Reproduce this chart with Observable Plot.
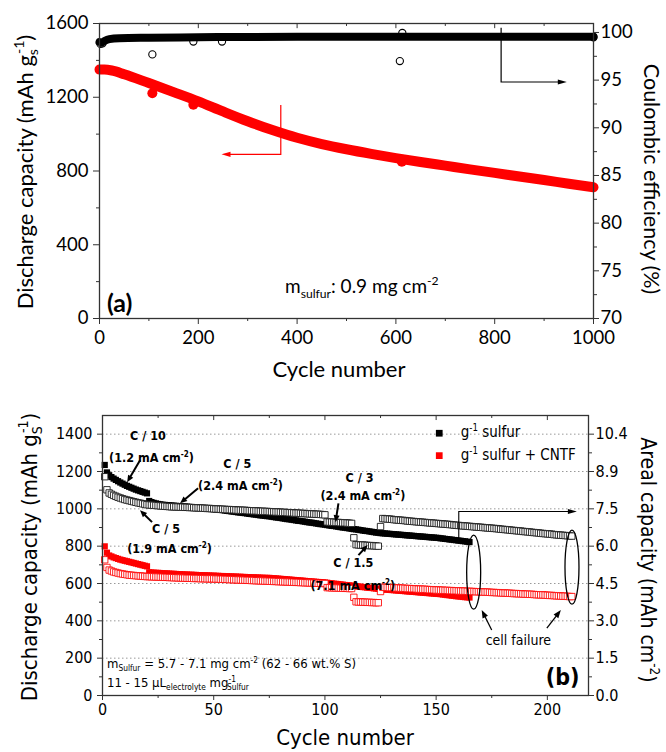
<!DOCTYPE html>
<html><head><meta charset="utf-8">
<script src="https://cdn.jsdelivr.net/npm/d3@7"></script>
<script src="https://cdn.jsdelivr.net/npm/@observablehq/plot@0.6"></script>
<style>
body{margin:0;background:#fff;}
#wrap{width:666px;height:752px;position:relative;overflow:hidden;background:#fff;}
#wrap svg{display:block;}
</style></head><body><div id="wrap"></div>
<script>
// ================= DATA: panel (a) =================
const capCycles = [0,10,25,50,100,150,200,250,300,350,400,450,500,550,600,650,700,750,800,850,900,950,1000];
const capValues = [1350,1350,1345,1325,1277,1228,1178,1123,1070,1022,980,946,918,893,870,849,829,809,790,770,751,731,712];
const capDipCycles = [107,190,612];
const capDipValues = [1222,1160,850];
const ceCycles = [0,5,10,20,40,100,200,400,600,800,1000];
const ceValues = [99.0,98.95,99.1,99.3,99.4,99.45,99.5,99.55,99.55,99.55,99.55];
const ceOutCycles = [2,6,107,190,248,608,613,1000];
const ceOutValues = [98.8,98.85,97.7,99.05,99.05,97.0,99.95,99.5];
const aXTicks = [0,200,400,600,800,1000];
const aXMinor = [100,300,500,700,900];
const aYTicks = [0,400,800,1200,1600];
const aYMinor = [200,600,1000,1400];
const ceTicks = [70,75,80,85,90,95,100];
const ceMinor = [72.5,77.5,82.5,87.5,92.5,97.5];
const ceDomain = [70,100.94];

// ================= DATA: panel (b) =================
const bBlackFilled = [1235,1195,1180,1170,1162,1155,1148,1141,1135,1129,1123,1118,1113,1108,1103,1099,1095,1091,1087,1083,
1042,1036,1032,1029,1026,1024,1022,1021,1020,1019,
1018,1017,1016,1015,1014,1013,1012,1011,1010,1009,1008,1007,1006,1005,1004,1003,1002,1001,1000,999,
997,996,994,993,991,989,988,986,985,983,981,980,978,977,975,973,972,970,969,967,965,964,962,961,960,
958,956,954,953,951,949,947,945,944,942,940,938,936,935,933,931,929,927,926,924,922,920,918,917,915,
913,911,909,908,906,904,902,900,899,897,895,893,891,890,888,886,884,882,881,879,877,875,873,872,870,
869,868,867,866,865,864,863,862,861,860,859,858,857,856,855,854,853,852,851,850,849,848,847,846,845,
844,842,841,839,838,836,835,833,832,830,829,827,826,824,822];
const bRedFilled = [799,765,750,745,740,736,732,728,725,722,719,716,713,710,707,704,701,698,695,692,
660,659,658,657,657,656,655,654,654,653,
652,652,651,650,650,649,648,648,647,647,646,646,645,645,644,644,643,643,642,642,
641,641,640,640,639,639,638,638,637,637,636,636,635,635,634,634,633,633,632,632,631,631,630,630,630,
629,628,627,626,625,624,623,622,621,620,619,618,617,616,615,614,613,612,611,610,609,608,607,606,605,
604,602,601,599,598,597,595,594,592,591,590,588,587,585,584,583,581,580,578,577,576,574,573,571,570,
569,568,567,566,565,564,563,562,561,560,559,558,557,556,555,554,553,552,551,550,549,548,547,546,545,
544,543,541,540,538,537,535,534,532,531,530,528,527,526,525];
const bGrayOpen = [1172,1102,1085,1078,1072,1067,1062,1058,1054,1050,1047,1044,1041,1038,1035,1032,1030,1027,1025,1022,
1021,1020,1019,1018,1017,1016,1015,1014,1013,1012,1011,1011,1010,1010,1009,1009,1008,1008,1007,1007,1006,1005,1005,1004,1004,1003,1002,1002,1001,1000,
999,999,998,998,997,996,996,995,995,994,993,993,992,992,991,990,990,989,989,988,
987,987,986,986,985,984,984,983,983,982,981,981,980,979,979,978,977,977,976,975,
975,974,973,973,972,971,971,970,969,968,
930,929,929,928,927,927,926,925,925,924,923,922,
845,
808,807,806,806,805,804,803,803,802,801,800,
905,
948,947,946,945,944,942,941,940,939,938,937,935,934,933,932,931,930,929,928,927,926,925,924,923,922,
921,920,919,918,917,916,915,913,912,911,910,909,908,907,906,905,904,903,902,901,900,899,898,897,896,
895,894,893,891,890,889,888,887,885,884,883,882,881,879,878,877,876,874,873,872,871,869,868,867,866,
865,864,862,861,860,859,858,857,856,855,854];
const bRedOpen = [727,686,672,667,662,659,656,653,651,649,647,645,644,643,642,641,640,639,638,637,
637,636,636,635,635,634,634,633,633,632,632,631,631,630,630,629,629,628,628,628,627,627,627,626,626,626,625,625,625,625,
624,624,623,623,622,622,621,621,620,620,619,619,618,618,617,617,616,616,615,615,
614,614,613,613,612,612,611,611,610,610,609,609,608,608,607,607,606,606,605,605,
604,604,603,603,602,602,601,601,600,600,
578,578,577,577,576,576,575,575,574,574,573,573,
526,
502,501,501,500,500,499,499,498,498,497,497,
557,
580,579,579,578,578,577,576,576,575,575,574,573,573,572,572,571,570,570,569,569,568,567,567,566,565,
565,564,564,563,563,562,562,561,561,560,560,559,559,558,558,557,557,556,556,555,555,554,554,553,552,
552,551,551,550,549,549,548,548,547,546,546,545,545,544,543,543,542,542,541,540,540,539,539,538,537,
536,536,535,534,534,533,532,532,531,530,530];
const bXTicks = [0,50,100,150,200];
const bXMinor = [25,75,125,175];
const bYTicks = [0,200,400,600,800,1000,1200,1400];
const bYMinor = [100,300,500,700,900,1100,1300];
const bGrid = [200,400,600,800,1000,1200,1400];
const arealLabels = ["0.0","1.5","3.0","4.5","6.0","7.5","8.9","10.4"];
const legendLabels = ["sulfur","sulfur + CNTF"];

// ================= helpers =================
const F_A = "Lato, 'Open Sans', sans-serif";
const F_B = "'DejaVu Sans Condensed', 'DejaVu Sans', sans-serif";
const plain = d => String(d);

function richMark(items) {
  return (index, scales) => {
    const g = d3.create("svg:g");
    for (const it of items) {
      const x = it.px ? it.x : scales.x(it.x);
      const y = it.px ? it.y : scales.y(it.y);
      const t = g.append("text")
        .attr("x", x).attr("y", y)
        .attr("font-family", it.font)
        .attr("font-size", it.size)
        .attr("font-weight", it.weight || "normal")
        .attr("fill", "#000")
        .attr("text-anchor", it.anchor || "start")
        .style("white-space", "pre");
      if (it.rotate) t.attr("transform", `rotate(${it.rotate} ${x} ${y})`);
      let off = 0;
      for (const [s, m, dx] of it.parts) {
        const sp = t.append("tspan").text(s);
        let target = 0, fs = it.size;
        if (m === "^") { target = -0.42 * it.size; fs = 0.64 * it.size; }
        else if (m === "_") { target = 0.24 * it.size; fs = 0.64 * it.size; }
        sp.attr("font-size", fs).attr("dy", target - off);
        if (dx) sp.attr("dx", dx);
        off = target;
      }
    }
    return g.node();
  };
}
function arrowMark(arrows) {
  return (index, scales) => {
    const g = d3.create("svg:g");
    for (const a of arrows) {
      const p = a.pts.map(([x, y]) => [scales.x(x), scales.y(y)]);
      const n = p.length;
      const [x1, y1] = p[n - 2], [x2, y2] = p[n - 1];
      const L = Math.hypot(x2 - x1, y2 - y1), ux = (x2 - x1) / L, uy = (y2 - y1) / L;
      const hl = a.head || 8, hw = a.hw || 3;
      const bx = x2 - ux * hl, by = y2 - uy * hl;
      const line = p.slice(0, n - 1).concat([[bx + ux, by + uy]]);
      g.append("path").attr("d", "M" + line.map(q => q.join(",")).join("L"))
        .attr("fill", "none").attr("stroke", a.color).attr("stroke-width", a.w);
      g.append("path").attr("d", `M${x2},${y2}L${bx - uy * hw},${by + ux * hw}L${bx + uy * hw},${by - ux * hw}Z`)
        .attr("fill", a.color);
    }
    return g.node();
  };
}
function ellipseMark(list) {
  return (index, scales) => {
    const g = d3.create("svg:g");
    for (const e of list) {
      g.append("ellipse").attr("cx", scales.x(e.x)).attr("cy", scales.y(e.y))
        .attr("rx", e.rx).attr("ry", e.ry).attr("fill", "none").attr("stroke", "#000").attr("stroke-width", 1.3);
    }
    return g.node();
  };
}

// ================= panel (a) =================
const toLeft = ce => (ce - ceDomain[0]) / (ceDomain[1] - ceDomain[0]) * 1600;
const toCE = v => v / 1600 * (ceDomain[1] - ceDomain[0]) + ceDomain[0];
const capData = capCycles.map((c, i) => ({c, v: capValues[i]}));
const capDips = capDipCycles.map((c, i) => ({c, v: capDipValues[i]}));
const ceData = ceCycles.map((c, i) => ({c, v: toLeft(ceValues[i])}));
const ceOut = ceOutCycles.map((c, i) => ({c, v: toLeft(ceOutValues[i])}));
const AX = "#333";

const plotA = Plot.plot({
  width: 666, height: 385,
  marginLeft: 99, marginRight: 73, marginTop: 23, marginBottom: 67,
  x: {domain: [0, 1000], label: null},
  y: {domain: [0, 1600], label: null},
  style: {fontFamily: F_A, fontSize: "18.5px", color: "#000", background: "#fff", overflow: "visible"},
  marks: [
    Plot.line(capData, {x: "c", y: "v", stroke: "#ff0000", strokeWidth: 10, curve: "monotone-x"}),
    Plot.dot(capDips, {x: "c", y: "v", r: 5, fill: "#ff0000"}),
    Plot.line(ceData, {x: "c", y: "v", stroke: "#000", strokeWidth: 8, curve: "monotone-x"}),
    Plot.dot(ceOut, {x: "c", y: "v", r: 3.6, stroke: "#000", fill: "none", strokeWidth: 1.1}),
    Plot.frame({stroke: AX, strokeWidth: 1.3}),
    Plot.axisX(aXTicks, {anchor: "bottom", tickSize: 6, tickPadding: 6, stroke: AX, label: null, tickFormat: plain}),
    Plot.axisX(aXMinor, {anchor: "bottom", tickSize: 3, tickFormat: () => "", stroke: AX, label: null}),
    Plot.ruleX(aXTicks.concat(aXMinor), {x: d => d, y1: 1600, y2: d => aXTicks.includes(d) ? 1572 : 1584, stroke: AX}),
    Plot.axisY(aYTicks, {anchor: "left", tickSize: 6, tickPadding: 5, stroke: AX, label: null, tickFormat: plain}),
    Plot.axisY(aYMinor, {anchor: "left", tickSize: 3, tickFormat: () => "", stroke: AX, label: null}),
    Plot.axisY(ceTicks.map(toLeft), {anchor: "right", tickSize: 5, tickPadding: 2, stroke: AX, label: null,
      tickFormat: d => String(Math.round(toCE(d)))}),
    Plot.axisY(ceMinor.map(toLeft), {anchor: "right", tickSize: 3, tickFormat: () => "", stroke: AX, label: null}),
    arrowMark([
      {pts: [[368, 1155], [368, 888], [248, 888]], color: "#ff0000", w: 1.2, head: 9, hw: 2.6},
      {pts: [[814, toLeft(100.45)], [814, toLeft(94.75)], [947, toLeft(94.75)]], color: "#000", w: 1.2, head: 9, hw: 2.6}
    ]),
    richMark([
      {x: 16, y: 32, size: 25, weight: "bold", font: F_A, parts: [["(a)"]]},
      {x: 376.5, y: 135.6, size: 19, font: F_A, parts: [["m"], ["sulfur", "_"], [": 0.9 mg cm"], ["-2", "^"]]},
      {px: true, x: 33, y: 172, rotate: -90, anchor: "middle", size: 22, font: F_A,
        parts: [["Discharge capacity (mAh g"], ["s", "_"], ["-1", "^", -5], [")"]]},
      {px: true, x: 644, y: 179, rotate: 90, anchor: "middle", size: 21.5, font: F_A, parts: [["Coulombic efficiency (%)"]]},
      {px: true, x: 339, y: 377, anchor: "middle", size: 22, font: F_A, parts: [["Cycle number"]]}
    ])
  ]
});

// ================= panel (b) =================
const mk = arr => arr.map((v, i) => ({c: i + 1, v}));
const plotB = Plot.plot({
  width: 666, height: 367,
  marginLeft: 102, marginRight: 78, marginTop: 30, marginBottom: 57,
  x: {domain: [0, 218.5], label: null},
  y: {domain: [0, 1500], label: null},
  style: {fontFamily: F_B, fontSize: "16px", color: "#000", background: "#fff", overflow: "visible"},
  marks: [
    Plot.gridY(bGrid, {stroke: "#999", strokeOpacity: 1, strokeDasharray: "1.5,2.5", strokeWidth: 1}),
    Plot.dot(mk(bBlackFilled), {x: "c", y: "v", symbol: "square", r: 3.5, fill: "#000"}),
    Plot.dot(mk(bRedFilled), {x: "c", y: "v", symbol: "square", r: 3.5, fill: "#ff0000"}),
    Plot.dot(mk(bGrayOpen), {x: "c", y: "v", symbol: "square", r: 3.6, fill: "#fff", stroke: "#1a1a1a", strokeWidth: 0.9}),
    Plot.dot(mk(bRedOpen), {x: "c", y: "v", symbol: "square", r: 3.6, fill: "#fff", stroke: "#ff0000", strokeWidth: 0.85}),
    Plot.dot([{c: 151.4, v: 1405, k: 0}, {c: 151.4, v: 1285, k: 1}], {x: "c", y: "v", symbol: "square", r: 3.8,
      fill: d => d.k === 0 ? "#000" : "#ff0000"}),
    Plot.frame({stroke: AX, strokeWidth: 1.3}),
    Plot.axisX(bXTicks, {anchor: "bottom", tickSize: 5, tickPadding: 3, stroke: AX, label: null, tickFormat: plain}),
    Plot.axisX(bXMinor, {anchor: "bottom", tickSize: 3, tickFormat: () => "", stroke: AX, label: null}),
    Plot.ruleX(bXTicks.concat(bXMinor), {x: d => d, y1: 1500, y2: d => bXTicks.includes(d) ? 1473 : 1484, stroke: AX}),
    Plot.axisY(bYTicks, {anchor: "left", tickSize: 5, tickPadding: 5, stroke: AX, label: null, tickFormat: plain}),
    Plot.axisY(bYMinor, {anchor: "left", tickSize: 3, tickFormat: () => "", stroke: AX, label: null}),
    Plot.axisY(bYTicks, {anchor: "right", tickSize: 5, tickPadding: 2, stroke: AX, label: null,
      tickFormat: d => arealLabels[bYTicks.indexOf(d)]}),
    Plot.axisY(bYMinor, {anchor: "right", tickSize: 3, tickFormat: () => "", stroke: AX, label: null}),
    ellipseMark([{x: 167.1, y: 658, rx: 7, ry: 37}, {x: 211.3, y: 685, rx: 7, ry: 37}]),
    arrowMark([
      {pts: [[17.1, 1257], [11.3, 1140]], color: "#000", w: 2, head: 7, hw: 3},
      {pts: [[43.2, 1108], [35.1, 1027]], color: "#000", w: 2, head: 7, hw: 3},
      {pts: [[22.5, 926], [17.1, 990]], color: "#000", w: 2, head: 7, hw: 3},
      {pts: [[106.3, 1027], [105, 926]], color: "#000", w: 2, head: 7, hw: 3},
      {pts: [[115.3, 749], [119.4, 803]], color: "#000", w: 2, head: 7, hw: 3},
      {pts: [[175.2, 348], [170.7, 455]], color: "#000", w: 1.3, head: 8, hw: 3},
      {pts: [[200, 358], [206.3, 455]], color: "#000", w: 1.3, head: 8, hw: 3},
      {pts: [[160.4, 840], [160.4, 983], [213.5, 983]], color: "#000", w: 1.1, head: 9, hw: 2.6}
    ]),
    richMark([
      {x: 12.6, y: 1364, size: 12.5, weight: "bold", font: F_B, parts: [["C / 10"]]},
      {x: 3.2, y: 1247, size: 12.5, weight: "bold", font: F_B, parts: [["(1.2 mA cm"], ["-2", "^"], [")"]]},
      {x: 54.5, y: 1215, size: 12.5, weight: "bold", font: F_B, parts: [["C / 5"]]},
      {x: 43.2, y: 1097, size: 12.5, weight: "bold", font: F_B, parts: [["(2.4 mA cm"], ["-2", "^"], [")"]]},
      {x: 22.5, y: 867, size: 12.5, weight: "bold", font: F_B, parts: [["C / 5"]]},
      {x: 11.3, y: 760, size: 12.5, weight: "bold", font: F_B, parts: [["(1.9 mA cm"], ["-2", "^"], [")"]]},
      {x: 109.5, y: 1140, size: 12.5, weight: "bold", font: F_B, parts: [["C / 3"]]},
      {x: 98.2, y: 1043, size: 12.5, weight: "bold", font: F_B, parts: [["(2.4 mA cm"], ["-2", "^"], [")"]]},
      {x: 104, y: 685, size: 12.5, weight: "bold", font: F_B, parts: [["C / 1.5"]]},
      {x: 93.7, y: 562, size: 12.5, weight: "bold", font: F_B, parts: [["(7.1 mA cm"], ["-2", "^"], [")"]]},
      {x: 172.5, y: 268, size: 14, font: F_B, parts: [["cell failure"]]},
      {x: 199.5, y: 56, size: 23, weight: "bold", font: F_B, parts: [["(b)"]]},
      {x: 2.25, y: 144, size: 13, font: F_B, parts: [["m"], ["Sulfur", "_"], [" = 5.7 - 7.1 mg cm"], ["-2", "^"], [" (62 - 66 wt.% S)"]]},
      {x: 2.25, y: 43, size: 13, font: F_B, parts: [["11 - 15 μL"], ["electrolyte", "_"], [" mg"], ["-1", "^"], ["Sulfur", "_", -9]]},
      {x: 161.3, y: 1380, size: 15, font: F_B, parts: [["g"], ["-1", "^"], [" " + legendLabels[0]]]},
      {x: 161.3, y: 1257, size: 15, font: F_B, parts: [["g"], ["-1", "^"], [" " + legendLabels[1]]]},
      {px: true, x: 37, y: 172, rotate: -90, anchor: "middle", size: 22, font: F_B,
        parts: [["Discharge capacity (mAh g"], ["S", "_"], ["-1", "^", -7], [")"]]},
      {px: true, x: 641, y: 175, rotate: 90, anchor: "middle", size: 21, font: F_B,
        parts: [["Areal capacity (mAh cm"], ["-2", "^"], [")"]]},
      {px: true, x: 345, y: 360, anchor: "middle", size: 22, font: F_B, parts: [["Cycle number"]]}
    ])
  ]
});

const wrap = document.getElementById("wrap");
wrap.appendChild(plotA);
wrap.appendChild(plotB);
</script>
</body></html>
